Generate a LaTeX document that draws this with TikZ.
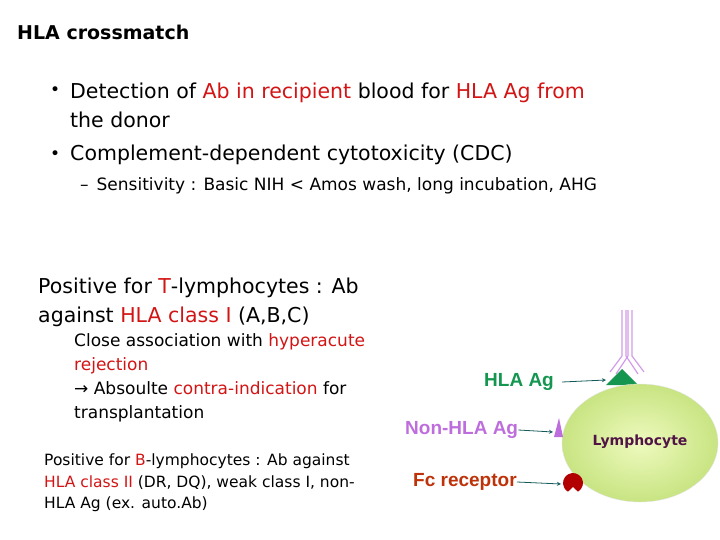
\documentclass[tikz,border=0pt]{standalone}
\usetikzlibrary{shapes.geometric}
\usepackage{fontspec}
\setmainfont{DejaVu Sans}
\setsansfont{Liberation Sans}
\definecolor{rd}{RGB}{210,20,20}
\definecolor{hlag}{RGB}{20,150,80}
\definecolor{nonh}{RGB}{190,110,220}
\definecolor{fcr}{RGB}{190,50,10}
\definecolor{lym}{RGB}{80,20,70}
\begin{document}
\begin{tikzpicture}[x=1pt,y=-1pt,
  txt/.style={anchor=west,inner sep=0,align=left},
  lbl/.style={anchor=west,inner sep=0,font=\sffamily\bfseries\fontsize{19}{22}\selectfont},
  arr/.style={->,>=stealth,draw={rgb,255:red,20;green,90;blue,90},thick}]
\useasboundingbox (0,0) rectangle (720,540);
\node[txt,font=\bfseries\fontsize{19}{24}\selectfont] (t) at (17,32) {HLA crossmatch};
\node[anchor=west,inner sep=0] (b1) at (50,91) {\fontsize{17}{20}\selectfont •};
\node[txt,font=\fontsize{20.5}{29}\selectfont] (l1) at (70,105) {Detection of \textcolor{rd}{Ab in recipient} blood for \textcolor{rd}{HLA Ag from}\\the donor};
\node[anchor=west,inner sep=0] (b2) at (50,155) {\fontsize{17}{20}\selectfont •};
\node[txt,font=\fontsize{20.5}{20}\selectfont] (l2) at (70,155) {Complement-dependent cytotoxicity (CDC)};
\node[txt,font=\fontsize{17}{17}\selectfont] (l3) at (80,186) {–\hspace{8pt}Sensitivity : Basic NIH < Amos wash, long incubation, AHG};
\node[txt,font=\fontsize{20.5}{29}\selectfont] (p1) at (38,302) {Positive for \textcolor{rd}{T}-lymphocytes : Ab\\against \textcolor{rd}{HLA class I} (A,B,C)};
\node[txt,font=\fontsize{17}{24}\selectfont] (p2) at (74,378) {Close association with \textcolor{rd}{hyperacute}\\\textcolor{rd}{rejection}\\→ Absoulte \textcolor{rd}{contra-indication} for\\transplantation};
\node[txt,font=\fontsize{15.5}{21.5}\selectfont] (p3) at (44,483) {Positive for \textcolor{rd}{B}-lymphocytes : Ab against\\\textcolor{rd}{HLA class II} (DR, DQ), weak class I, non-\\HLA Ag (ex. auto.Ab)};
% antibody
\draw[nonh!70,line width=1.2pt] (622,310)--(622,356)--(610,372) (628,310)--(628,356)--(616,374)
  (632,310)--(632,356)--(644,372) (626,310)--(626,356)--(638,374);
\fill[hlag] (606,385)--(622,369)--(638,385)--cycle;
\node[draw=black!10,ellipse,minimum width=156,minimum height=118,inner sep=0,inner color={rgb,255:red,238;green,250;blue,190},outer color={rgb,255:red,200;green,228;blue,130}] (ly) at (640,443) {};
\node[font=\bfseries\fontsize{14}{16}\selectfont,text=lym] (lt) at (640,442) {Lymphocyte};
\fill[nonh] (554,437)--(559,418)--(563,437)--cycle;
\fill[red!70!black] (573,483) ++(60:10) arc (60:-240:10) -- (573,487) -- cycle;
\coordinate (hA) at (606,380); \coordinate (nA) at (553,432); \coordinate (fA) at (561,484);
\node[lbl,text=hlag] (h) at (484,382) {HLA Ag};
\node[lbl,text=nonh] (n) at (405,430) {Non-HLA Ag};
\node[lbl,text=fcr] (f) at (413,482) {Fc receptor};
\draw[arr] ([xshift=8]h.east) -- (hA);
\draw[arr] (n.east) -- (nA);
\draw[arr] (f.east) -- (fA);
\end{tikzpicture}
\end{document}
